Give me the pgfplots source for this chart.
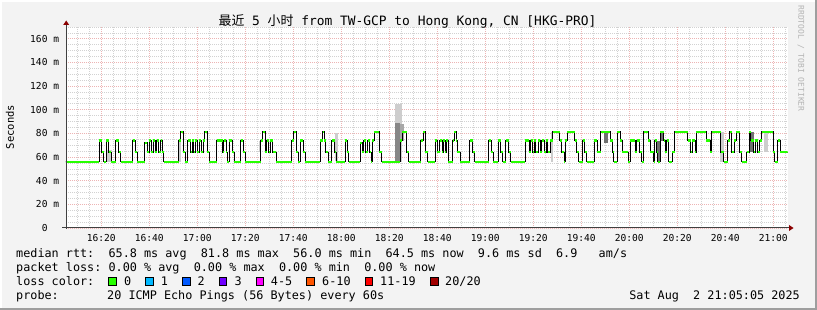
\documentclass[border=0pt]{standalone}
\usepackage{pgfplots}
\pgfplotsset{compat=1.18}
\usepackage{fontspec}
\newfontfamily\mono{DejaVu Sans Mono}
\newfontfamily\cjk{Noto Sans CJK SC}
\definecolor{bgc}{HTML}{F3F3F3}
\definecolor{shadeA}{HTML}{FFFFFF}
\definecolor{shadeB}{HTML}{9E9E9E}
\definecolor{axgray}{HTML}{404040}
\definecolor{arrowred}{HTML}{8B0000}
\definecolor{gridmin}{HTML}{D2D2D2}
\definecolor{gridmaj}{HTML}{EDB4B4}
\definecolor{lossgreen}{HTML}{26FF00}
\definecolor{smokeL}{HTML}{CDCDCD}
\definecolor{smokeM}{HTML}{A8A8A8}
\definecolor{smokeD}{HTML}{707070}
\definecolor{credgray}{HTML}{B4B4B4}
\definecolor{c1}{HTML}{00B8FF}
\definecolor{c2}{HTML}{0059FF}
\definecolor{c3}{HTML}{7000FF}
\definecolor{c4}{HTML}{FF00FF}
\definecolor{c5}{HTML}{FF5500}
\definecolor{c6}{HTML}{FF0000}
\definecolor{c7}{HTML}{A10000}
\newcommand\tickfont{\mono\fontsize{9.6}{10}\selectfont}
\newcommand\legfont{\mono\fontsize{11.8}{12}\selectfont}
\newcommand\titlefont{\mono\fontsize{12.9}{13}\selectfont}

\pgfplotstableread{
t v
0 56
14.2 74
15.2 64
16.1 56
17.0 74
18.1 64
19.2 56
21.1 74
22.3 64
23.1 56
28.1 74
29.2 64
30.0 56
33.1 72
34.2 64
35.0 74
35.8 64
36.7 74
37.5 64
38.1 74
38.9 64
39.8 74
40.3 64
41.1 56
47.3 74
48.1 81.5
49.2 64
50.0 56
51.0 74
52.3 64
52.8 74
53.6 64
54.2 74
55.0 64
55.8 74
56.7 64
57.5 74
58.2 81.5
59.2 64
60.0 56
63.1 74
65.6 64
66.1 74
67.0 64
67.5 56
68.3 74
69.5 64
70.3 56
73.1 74
74.2 64
75.0 56
81.5 74
82.2 81.5
83.4 64
84.0 74
84.7 64
85.5 74
86.4 64
88.0 56
94.4 74
95.1 81.5
96.2 64
97.0 56
97.9 74
99.2 64
99.9 56
106.3 74
107.2 81.5
108.0 74
108.6 64
109.5 56
111.1 74
112.2 64
113.0 56
116.7 74
117.5 64
118.2 56
122.9 72
123.8 64
124.3 74
125.2 64
126.0 74
126.8 64
127.5 56
128.0 74
128.8 81.5
130.8 64
131.8 56
139.5 74
140.5 81.5
142.3 64
143.1 56
148.1 74
149.2 81.5
150.0 64
151.1 56
154.2 74
155.0 64
156.1 74
157.0 64
157.5 74
158.3 64
158.8 74
159.5 56
161.4 74
162.0 81.5
162.8 74
163.3 64
164.5 56
168.6 74
169.8 64
170.6 56
176.4 74
177.5 64
178.3 56
180.3 74
181.4 64
182.3 56
183.6 74
184.8 64
185.6 56
191.7 74
193.3 64
193.9 74
194.8 64
195.3 74
196.1 64
197.0 74
197.8 64
198.6 74
199.5 64
200.3 74
201.1 64
202.0 74
203.1 81.5
206.1 74
206.9 64
207.8 56
208.3 74
209.2 81.5
212.3 74
213.1 64
213.9 56
215.6 74
216.4 64
217.3 56
220.3 74
221.7 64
223.2 81.5
227.1 74
228.0 64
228.5 56
229.9 81.5
231.3 74
232.1 64
234.6 56
235.4 74
237.4 64
238.2 74
239.3 64
240.2 56
241.0 81.5
242.9 74
243.7 64
245.2 56
245.6 74
246.5 64
246.8 56
247.9 81.5
249.3 74
250.0 64
250.7 74
251.5 56
252.9 64
253.9 81.5
259.3 74
260.7 64
261.3 74
262.4 64
262.9 81.5
267.1 74
268.7 64
269.3 81.5
273.2 64
274.3 56
276.0 74
276.8 81.5
277.7 64
278.8 74
279.6 81.5
281.0 64
281.8 56
284.0 64
284.9 81.5
285.7 74
286.8 64
287.4 74
288.5 64
289.3 74
290.1 81.5
294.9 64
295.7 56
296.8 74
297.9 64
301 64
}\median

\begin{document}
\begin{tikzpicture}[x=1pt,y=1pt]
\useasboundingbox (0,0) rectangle (817,310);
\fill[bgc] (0,0) rectangle (817,310);
\draw[shadeA, line width=2pt] (1,0) -- (1,309) -- (817,309);
\draw[shadeB, line width=2pt] (0,1) -- (816,1) -- (816,310);
\begin{axis}[
  at={(66pt,82pt)}, anchor=south west,
  width=721.7pt, height=201pt, scale only axis,
  xmin=0.3, xmax=301, ymin=0, ymax=170,
  axis background/.style={fill=white},
  axis line style={draw=none},
  xtick={15,35,...,295},
  xticklabels={16:20,16:40,17:00,17:20,17:40,18:00,18:20,18:40,19:00,19:20,19:40,20:00,20:20,20:40,21:00},
  minor xtick={5,10,20,25,30,40,45,50,60,65,70,80,85,90,100,105,110,120,125,130,140,145,150,160,165,170,180,185,190,200,205,210,220,225,230,240,245,250,260,265,270,280,285,290,300},
  ytick={0,20,40,60,80,100,120,140,160},
  yticklabels={0\phantom{~m},20~m,40~m,60~m,80~m,100~m,120~m,140~m,160~m},
  minor ytick={5,10,15,25,30,35,45,50,55,65,70,75,85,90,95,105,110,115,125,130,135,145,150,155,165,170},
  grid=both,
  major grid style={color=gridmaj, dash pattern=on 1pt off 1pt, line width=0.7pt},
  minor grid style={color=gridmin, dash pattern=on 1pt off 1pt, line width=0.7pt},
  major tick length=0pt, minor tick length=0pt,
  xticklabel style={font=\tickfont, inner sep=0pt, anchor=north, yshift=-6pt},
  yticklabel style={font=\tickfont, inner sep=0pt, anchor=east, xshift=-6.7pt},
]
% smoke
\addplot[fill=smokeL, draw=none] coordinates {(17.2,56) (19.3,56) (19.3,66) (17.2,66)} -- cycle;
\addplot[fill=smokeL, draw=none] coordinates {(47.3,56) (48.1,56) (48.1,74) (47.3,74)} -- cycle;
\addplot[fill=smokeL, draw=none] coordinates {(80.8,64) (81.7,64) (81.7,74) (80.8,74)} -- cycle;
\addplot[fill=smokeL, draw=none] coordinates {(112.3,57) (113.8,57) (113.8,80) (112.3,80)} -- cycle;
\addplot[fill=smokeL, draw=none] coordinates {(137.2,56) (140.3,56) (140.3,105) (137.2,105)} -- cycle;
\addplot[fill=smokeM, draw=none] coordinates {(139.3,74) (141.0,74) (141.0,88) (139.3,88)} -- cycle;
\addplot[fill=smokeM!80!black, draw=none] coordinates {(137.2,56) (139.3,56) (139.3,89) (137.2,89)} -- cycle;
\addplot[fill=smokeL, draw=none] coordinates {(202.2,56) (203.3,56) (203.3,81) (202.2,81)} -- cycle;
\addplot[fill=smokeD, draw=none] coordinates {(224.3,72) (226.0,72) (226.0,81) (224.3,81)} -- cycle;
\addplot[fill=smokeD, draw=none] coordinates {(246.4,56) (247.8,56) (247.8,74) (246.4,74)} -- cycle;
\addplot[fill=smokeD, draw=none] coordinates {(247.8,74) (249.4,74) (249.4,81.5) (247.8,81.5)} -- cycle;
\addplot[fill=smokeL, draw=none] coordinates {(272.8,56) (274.4,56) (274.4,81) (272.8,81)} -- cycle;
\addplot[fill=smokeD, draw=none] coordinates {(285.2,64) (287.1,64) (287.1,81) (285.2,81)} -- cycle;
\addplot[fill=smokeL, draw=none] coordinates {(291.3,64) (292.7,64) (292.7,81) (291.3,81)} -- cycle;
% median
\addplot[black, line width=1pt, const plot mark left] table[x=t,y=v] {\median};
\addplot[lossgreen, line width=2.2pt, jump mark left] table[x=t,y=v] {\median};
\end{axis}
% axes
\draw[axgray, line width=1pt] (66,81) -- (66,286);
\draw[axgray, line width=1pt] (62,82) -- (789,82);
\fill[arrowred] (63.2,285) -- (69.2,285) -- (66.2,289.5) -- cycle;
\fill[arrowred] (789,79) -- (789,85) -- (793.5,82) -- cycle;
% title
\node[font=\titlefont, inner sep=0pt] at (407.5,289) {{\cjk 最近}~5~{\cjk 小时}~from~TW-GCP~to~Hong~Kong,~CN~[HKG-PRO]};
\node[font=\mono\fontsize{10.5}{11}\selectfont, rotate=90, inner sep=0pt] at (10,183) {Seconds};
\node[font=\mono\fontsize{8}{8}\selectfont, text=credgray, rotate=-90, inner sep=0pt] at (801,251.5) {RRDTOOL / TOBI OETIKER};
% legend
\node[font=\legfont, anchor=base west, inner sep=0pt] at (16,52.7) {median~rtt:~~65.8~ms~avg~~81.8~ms~max~~56.0~ms~min~~64.5~ms~now~~9.6~ms~sd~~6.9~~~am/s};
\node[font=\legfont, anchor=base west, inner sep=0pt] at (16,38.3) {packet~loss:~0.00~\%~avg~~0.00~\%~max~~0.00~\%~min~~0.00~\%~now};
\node[font=\legfont, anchor=base west, inner sep=0pt] at (16,24.3) {loss~color:};
\foreach \bx/\lx/\col/\lab in {108.7/124/lossgreen/0, 145.7/160.7/c1/1, 182.7/197.3/c2/2, 219.3/234.3/c3/3, 256/270.7/c4/4-5, 306.7/322/c5/6-10, 365/380/c6/11-19, 430.7/445/c7/20\slash20}{
  \filldraw[fill=\col, draw=black, line width=0.8pt] (\bx,25) rectangle ++(7.3,7.3);
  \node[font=\legfont, anchor=base west, inner sep=0pt] at (\lx,24.3) {\lab};
}
\node[font=\legfont, anchor=base west, inner sep=0pt] at (16,10.7) {probe:};
\node[font=\legfont, anchor=base west, inner sep=0pt] at (107,10.7) {20~ICMP~Echo~Pings~(56~Bytes)~every~60s};
\node[font=\legfont, anchor=base east, inner sep=0pt] at (800,10.7) {Sat~Aug~~2~21:05:05~2025};
\end{tikzpicture}
\end{document}
